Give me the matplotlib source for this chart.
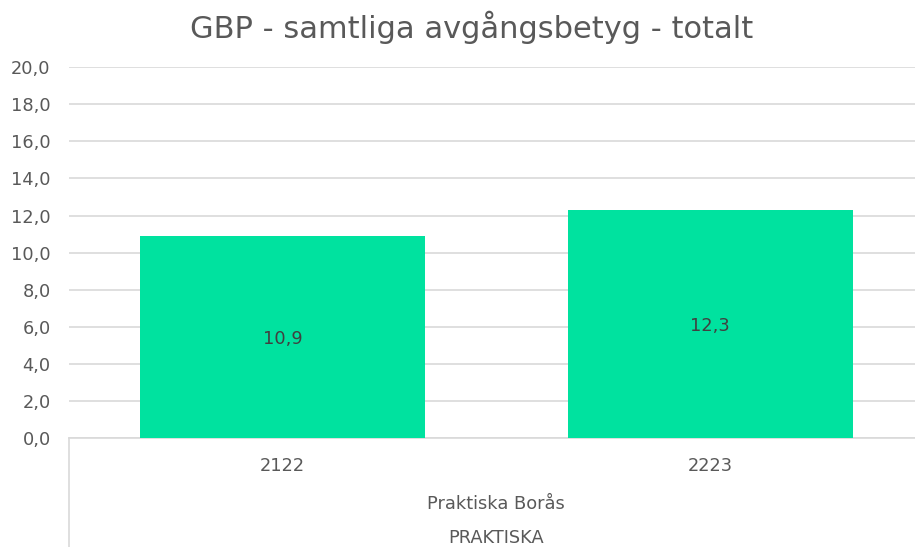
import matplotlib
matplotlib.use("Agg")
import matplotlib.pyplot as plt

title = "GBP - samtliga avgångsbetyg - totalt"
categories = ["2122", "2223"]
values = [10.9, 12.3]
group_label = "Praktiska Borås"
top_label = "PRAKTISKA"
yticks = [0, 2, 4, 6, 8, 10, 12, 14, 16, 18, 20]

plt.rcParams['font.family'] = ['DejaVu Sans']

W, H = 915, 547
fig = plt.figure(figsize=(W / 100, H / 100), dpi=100)
left = 68.75 / W
right_px = 924
bottom = 1 - 438.3 / H
top_px = 67.0
ax = fig.add_axes([left, bottom, (right_px - 68.75) / W, (438.3 - top_px) / H])

fs = 12.8
x = list(range(len(categories)))
bars = ax.bar(x, values, width=0.667, color="#00E29F", zorder=3)
ax.set_xlim(-0.5, len(categories) - 0.5)
ax.set_ylim(0, 20)
ax.set_yticks(yticks)
ax.set_yticklabels([f"{v:.1f}".replace(".", ",") for v in yticks], color="#595959", fontsize=fs)
ax.tick_params(axis="y", length=0, pad=13)
ax.set_xticks([])
ax.grid(axis="y", color="#D9D9D9", linewidth=1.2, zorder=0)
for s in ["top", "right", "left"]:
    ax.spines[s].set_visible(False)
ax.spines["bottom"].set_color("#D9D9D9")
ax.spines["bottom"].set_linewidth(1.2)

for xi, v in zip(x, values):
    ax.text(xi, v / 2, f"{v:.1f}".replace(".", ","), ha="center", va="center_baseline",
            color="#404040", fontsize=fs, zorder=4)

# category labels (multi-level), positioned by baseline
for xi, c in zip(x, categories):
    ax.annotate(c, xy=(xi, 0), xycoords=("data", "axes fraction"), xytext=(0, -(471 - 438.3)),
                textcoords="offset pixels", ha="center", va="baseline", color="#595959", fontsize=fs)
ax.annotate(group_label, xy=(0.5, 0), xycoords="axes fraction", xytext=(0, -(509 - 438.3)),
            textcoords="offset pixels", ha="center", va="baseline", color="#595959", fontsize=fs)
ax.annotate(top_label, xy=(0.5, 0), xycoords="axes fraction", xytext=(0, -(543 - 438.3)),
            textcoords="offset pixels", ha="center", va="baseline", color="#595959", fontsize=fs)

# left separator line of category axis
ax.plot([0, 0], [0, -(H - 438.3) / (438.3 - top_px)], transform=ax.transAxes,
        color="#D9D9D9", linewidth=1.2, clip_on=False)

fig.text(472 / W, 1 - 27 / H, title, ha="center", va="center", color="#595959", fontsize=22)

fig.savefig("out.png", dpi=100)
